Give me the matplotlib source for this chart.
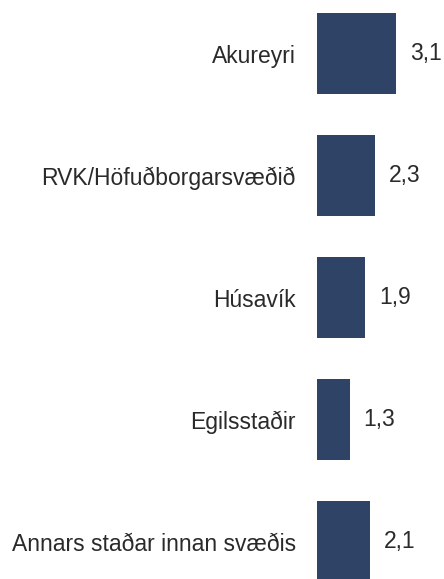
import matplotlib
matplotlib.use('Agg')
import matplotlib.pyplot as plt

# locations and average values (comma as decimal sign in labels)
places = ["Akureyri", "RVK/Höfuðborgarsvæðið", "Húsavík", "Egilsstaðir",
          "Annars staðar innan svæðis"]
values = [3.1, 2.3, 1.9, 1.3, 2.1]

BAR_COLOR = '#2e4366'
TEXT_COLOR = '#2a2a2a'
FS = 16.5

fig = plt.figure(figsize=(4.44, 5.79), dpi=100)
ax = fig.add_axes([316.7 / 444, 0, 1 - 316.7 / 444, 1])

ypos = list(range(len(places)))
ax.barh(ypos, values, height=0.664, color=BAR_COLOR, edgecolor='none')

for y, v in zip(ypos, values):
    ax.annotate(f"{v:.1f}".replace('.', ','), xy=(v, y), xytext=(10, 0),
                textcoords='offset points', va='center', ha='left',
                fontsize=FS, color=TEXT_COLOR, family='Liberation Sans')

ax.set_yticks(ypos)
ax.set_yticklabels(places, fontsize=FS, color=TEXT_COLOR, family='Liberation Sans')
ax.tick_params(axis='y', length=0, pad=15)
ax.set_xticks([])
ax.set_xlim(0, 127.3 / 25.5)
ax.set_ylim(4.305, -0.441)
for s in ax.spines.values():
    s.set_visible(False)

plt.savefig("out.png", dpi=100, facecolor='white')
plt.close()
